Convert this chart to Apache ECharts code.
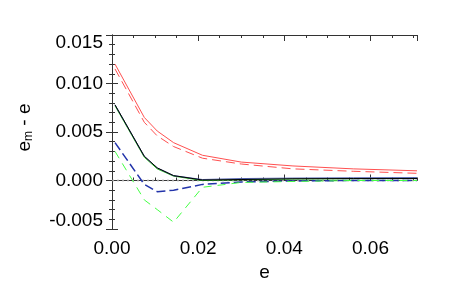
<!DOCTYPE html>
<html>
<head>
<meta charset="utf-8">
<script src="https://cdn.jsdelivr.net/npm/echarts@6/dist/echarts.min.js"></script>
<style>html,body{margin:0;padding:0;background:#fff}#c{width:450px;height:300px}</style>
</head>
<body>
<div id="c"></div>
<script>
// ---- data ----
var eVals = [0.0007, 0.0075, 0.0105, 0.0143, 0.021, 0.030, 0.042, 0.056, 0.0708];
var redSolid  = [0.0120, 0.0065, 0.0051, 0.0039, 0.0026, 0.0019, 0.0015, 0.0012, 0.0010];
var redDashed = [0.0115, 0.0060, 0.0046, 0.0035, 0.0023, 0.0017, 0.0012, 0.00095, 0.00074];
var blackSolid = [0.0078, 0.0025, 0.0013, 0.0005, 0.00005, 0.0001, 0.00018, 0.0002, 0.0002];
var greenSolid = [0.0077, 0.0024, 0.0012, 0.00045, 0.0, 0.00008, 0.00015, 0.00018, 0.0002];
var blueSolid  = [0.0078, 0.0025, 0.0013, 0.0005, 0.0001, 0.0002, 0.00025, 0.00028, 0.0003];
var blueDashed = [0.0039, -0.0004, -0.00115, -0.001, -0.0004, -0.00015, -0.00005, 0.0, 0.0];
var greenDashed = [0.0030, -0.0020, -0.0030, -0.0043, -0.0007, -0.0002, -0.0001, 0.0, 0.0];
var zeroLineX = [0, 0.0708];
var zeroLineY = [0, 0];
var xTickLabels = ['0.00', '0.02', '0.04', '0.06'];
var yTickLabels = ['-0.005', '0.000', '0.005', '0.010', '0.015'];

var XMIN = 0, XMAX = 0.0708, YMIN = -0.005, YMAX = 0.015;
var FONT = 'Liberation Sans';
var FS = 19;
var AX = '#333';

function pairs(xs, ys) { return xs.map(function (x, i) { return [x, ys[i]]; }); }

function xAx(pos, interval, len, labels) {
  return {
    type: 'value', position: pos, min: XMIN, max: XMAX, interval: interval,
    axisLine: { show: true, lineStyle: { color: AX, width: 1 } },
    axisTick: { show: true, inside: true, length: len, lineStyle: { color: AX } },
    splitLine: { show: false },
    axisLabel: labels ? {
      show: true, margin: 10, fontSize: FS, fontFamily: FONT, color: '#000', showMaxLabel: false,
      formatter: function (v) { var i = Math.round(v / 0.02); return xTickLabels[i] || ''; }
    } : { show: false },
    name: labels ? 'e' : '', nameLocation: 'middle', nameGap: 33,
    nameTextStyle: { fontSize: FS, fontFamily: FONT, color: '#000' }
  };
}
function yAx(pos, labels) {
  return {
    type: 'value', position: pos, min: YMIN, max: YMAX, interval: 0.005,
    axisLine: { show: true, lineStyle: { color: AX, width: 1 } },
    axisTick: { show: true, inside: true, length: 6, lineStyle: { color: AX } },
    minorTick: { show: true, splitNumber: 5, length: 3, lineStyle: { color: AX } },
    splitLine: { show: false },
    axisLabel: labels ? {
      show: true, margin: 9, fontSize: FS, fontFamily: FONT, color: '#000',
      formatter: function (v) {
        var i = Math.round((v - YMIN) / 0.005);
        var t = yTickLabels[i];
        if (i === 0) return '{b|' + t + '}';
        if (i === yTickLabels.length - 1) return '{t|' + t + '}';
        return '{n|' + t + '}';
      },
      rich: {
        t: { fontSize: FS, fontFamily: FONT, color: '#000', padding: [16, 0, 0, 0] },
        b: { fontSize: FS, fontFamily: FONT, color: '#000', padding: [0, 0, 16, 0] },
        n: { fontSize: FS, fontFamily: FONT, color: '#000' }
      }
    } : { show: false },
    name: labels ? '{a|e}{s|m}{a| - e}' : '', nameLocation: 'middle', nameGap: 77, nameRotate: 90,
    nameTextStyle: {
      fontSize: FS, fontFamily: FONT, color: '#000', padding: [0, 0, 0, 9],
      rich: {
        a: { fontSize: FS, fontFamily: FONT, color: '#000' },
        s: { fontSize: 12, fontFamily: FONT, color: '#000', verticalAlign: 'bottom', padding: [8, 0, 0, 0] }
      }
    }
  };
}

function line(data, color, type, width, z) {
  return {
    type: 'line', data: data, xAxisIndex: 0, yAxisIndex: 0, showSymbol: false, symbol: 'none',
    animation: false, z: z || 2,
    lineStyle: { color: color, type: type, width: width || 1 }
  };
}

var chart = echarts.init(document.getElementById('c'), null, { renderer: 'canvas' });
chart.setOption({
  animation: false,
  backgroundColor: '#fff',
  grid: { left: 112, right: 33, top: 35, bottom: 71, containLabel: false },
  xAxis: [
    xAx('bottom', 0.02, 6, true),
    xAx('bottom', 0.005, 3, false),
    xAx('top', 0.02, 6, false),
    xAx('top', 0.005, 3, false)
  ],
  yAxis: [yAx('left', true), yAx('right', false)],
  series: [
    line(pairs(zeroLineX, zeroLineY), '#999', [2, 3], 1.5, 1),
    line(pairs(eVals, redSolid), '#ff5050', 'solid', 1),
    line(pairs(eVals, redDashed), '#ff5050', [9, 5], 1),
    line(pairs(eVals, greenSolid), '#22bb22', 'solid', 1),
    line(pairs(eVals, blueSolid), '#5060b0', 'solid', 1),
    line(pairs(eVals, blackSolid), '#000', 'solid', 1, 3),
    line(pairs(eVals, blueDashed), '#2233aa', [9, 4], 1.5, 3),
    line(pairs(eVals, greenDashed), '#44ff44', [8, 6], 1, 3)
  ]
});
</script>
</body>
</html>
